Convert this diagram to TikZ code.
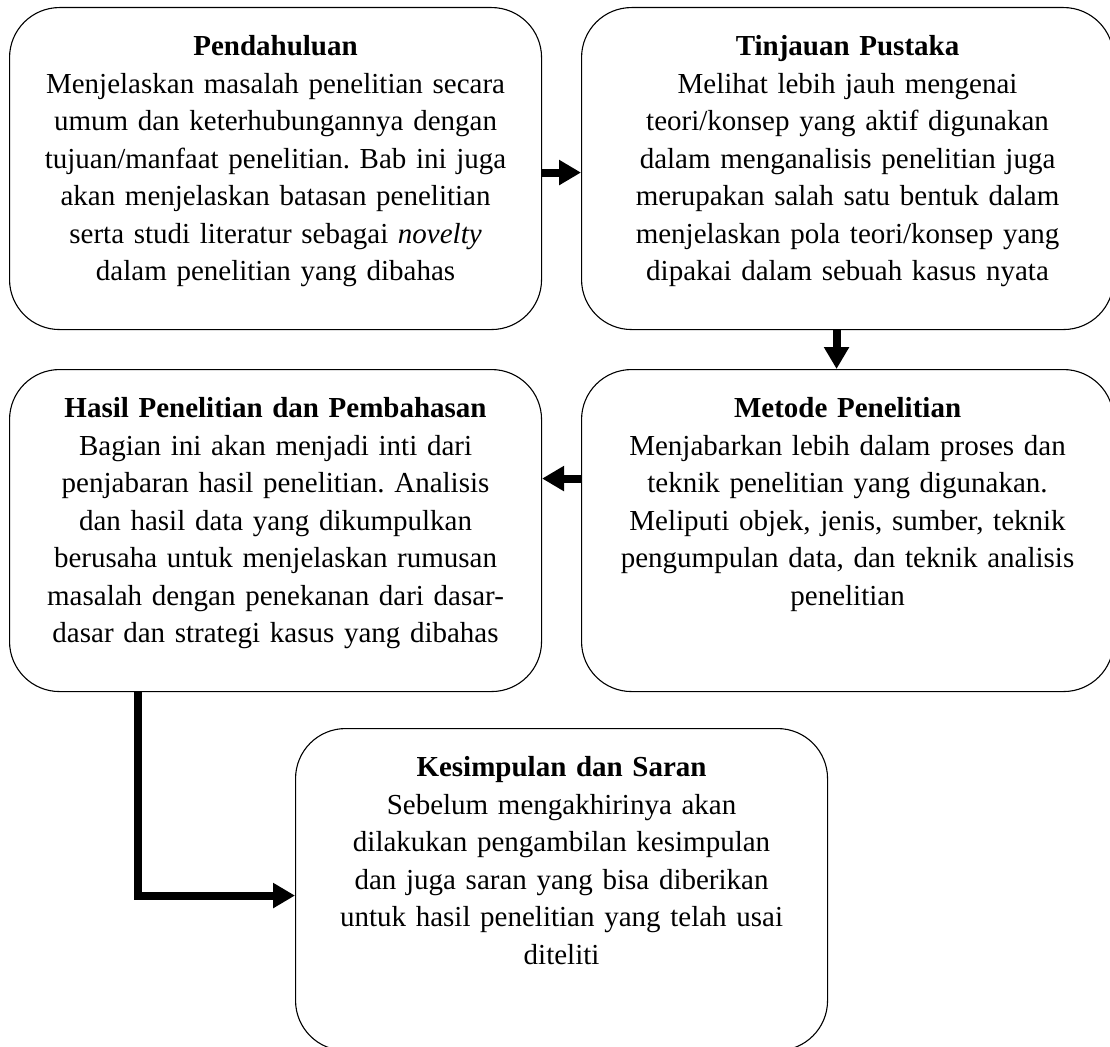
\documentclass[tikz,border=0pt]{standalone}
\usepackage{fontspec}
\setmainfont{Liberation Serif}
\usetikzlibrary{positioning,arrows.meta}
\frenchspacing
\tikzset{
	x=1pt,
	y=-1pt,
	stage/.style={draw, line width=1.1pt, rounded corners=50pt, anchor=north west,
		text width=510pt, align=center, inner xsep=11pt, inner ysep=28pt,
		text height=20pt, text depth=246pt,
		font=\fontsize{29}{37.5}\selectfont},
	flow/.style={line width=8pt, -{Triangle[length=22pt,width=24pt]}},
}

\begin{document}
\begin{tikzpicture}
		\useasboundingbox (0,0) rectangle (1110,1046);

		\node[stage] (pend) at (9,7) {\textbf{Pendahuluan}\\
			Menjelaskan masalah penelitian secara\\
			umum dan keterhubungannya dengan\\
			tujuan/manfaat penelitian. Bab ini juga\\
			akan menjelaskan batasan penelitian\\
			serta studi literatur sebagai \textit{novelty}\\
			dalam penelitian yang dibahas};
		\node[stage] (tinj) at (581,7) {\textbf{Tinjauan Pustaka}\\
			Melihat lebih jauh mengenai\\
			teori/konsep yang aktif digunakan\\
			dalam menganalisis penelitian juga\\
			merupakan salah satu bentuk dalam\\
			menjelaskan pola teori/konsep yang\\
			dipakai dalam sebuah kasus nyata};
		\node[stage] (metode) at (581,369) {\textbf{Metode Penelitian}\\
			Menjabarkan lebih dalam proses dan\\
			teknik penelitian yang digunakan.\\
			Meliputi objek, jenis, sumber, teknik\\
			pengumpulan data, dan teknik analisis\\
			penelitian};
		\node[stage] (hasil) at (9,369) {\textbf{Hasil Penelitian dan Pembahasan}\\
			Bagian ini akan menjadi inti dari\\
			penjabaran hasil penelitian. Analisis\\
			dan hasil data yang dikumpulkan\\
			berusaha untuk menjelaskan rumusan\\
			masalah dengan penekanan dari dasar-\\
			dasar dan strategi kasus yang dibahas};
		\node[stage] (kesim) at (295,728) {\textbf{Kesimpulan dan Saran}\\
			Sebelum mengakhirinya akan\\
			dilakukan pengambilan kesimpulan\\
			dan juga saran yang bisa diberikan\\
			untuk hasil penelitian yang telah usai\\
			diteliti};

		\draw[flow] ([yshift=-4pt]pend.east) -- ([yshift=-4pt]tinj.west);
		\draw[flow] ([xshift=-11pt]tinj.south) -- ([xshift=-11pt]metode.north);
		\draw[flow] ([yshift=52pt]metode.west) -- ([yshift=52pt]hasil.east);
		\draw[flow] ([xshift=129pt]hasil.south west) |- ([yshift=-6pt]kesim.west);
	\end{tikzpicture}
\end{document}
